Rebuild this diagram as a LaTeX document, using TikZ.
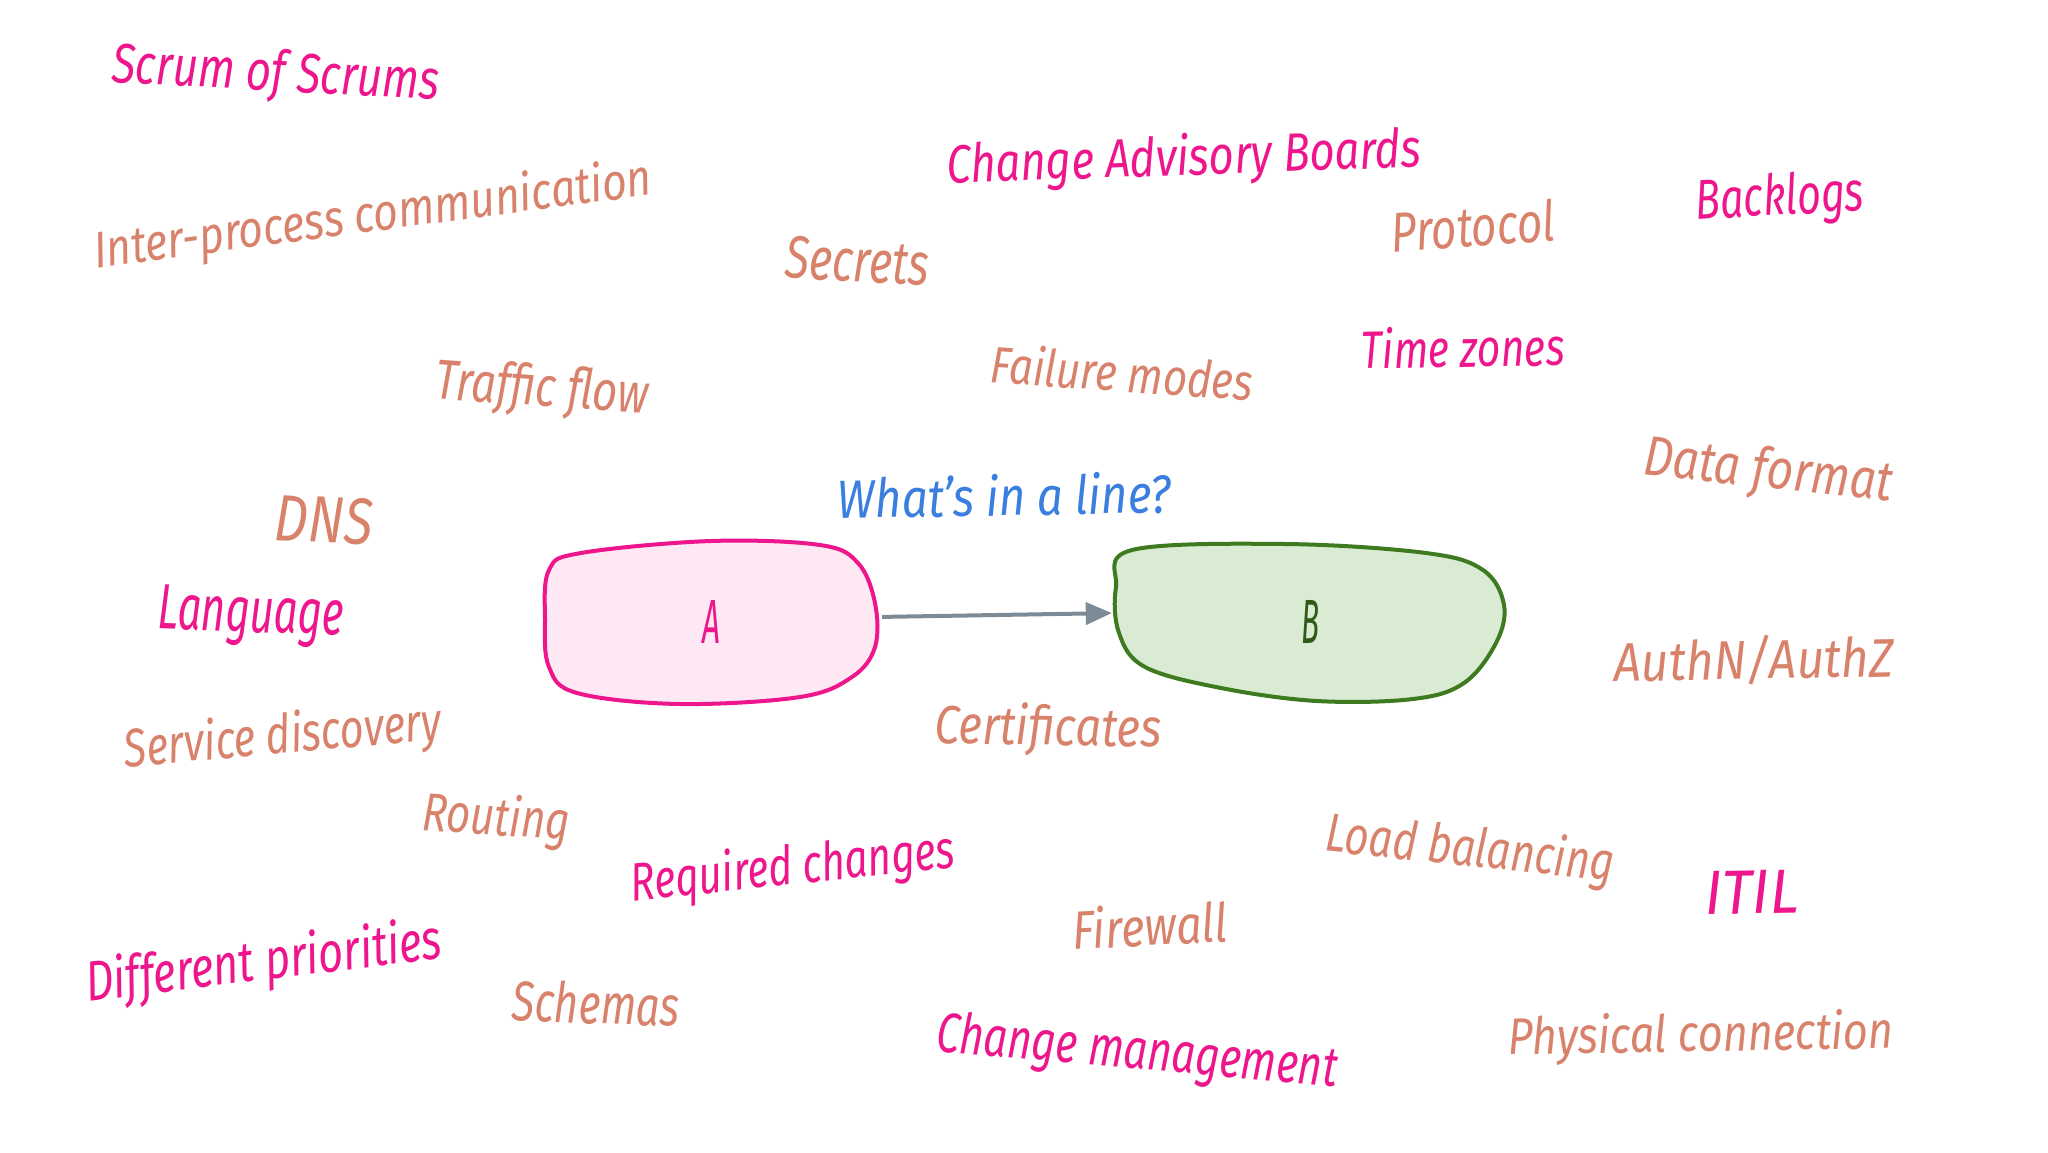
\documentclass[tikz,border=0pt]{standalone}
\usepackage{fontspec}
\usetikzlibrary{arrows.meta}
\newfontfamily\hwfont{Fira Sans}
\newcommand\hw[3]{\resizebox{#1pt}{#2pt}{\hwfont\itshape #3}}
\definecolor{salmon}{HTML}{D9826B}
\definecolor{hotpink}{HTML}{EE168C}
\definecolor{skyblue}{HTML}{3A7FE0}
\definecolor{pinkfill}{HTML}{FDE8F4}
\definecolor{greenline}{HTML}{3E7A1F}
\definecolor{greenfill}{HTML}{D9EBD3}
\definecolor{darkgreen}{HTML}{2F5A16}
\definecolor{arrowgrey}{HTML}{7D8B96}
\tikzset{
  lbl/.style={inner sep=0pt, anchor=center},
  sal/.style={lbl, text=salmon},
  pnk/.style={lbl, text=hotpink},
  blobA/.style={draw=hotpink, fill=pinkfill, line width=4pt, line join=round},
  blobB/.style={draw=greenline, fill=greenfill, line width=4pt, line join=round},
  boxnode/.style={inner sep=0pt, draw=none},
  link/.style={draw=arrowgrey, line width=4pt, -{Triangle[length=26pt,width=22pt]}}
}
\begin{document}
\begin{tikzpicture}[x=1pt,y=-1pt]
\useasboundingbox (0,0) rectangle (2048,1152);
\fill[white] (0,0) rectangle (2048,1152);

% blobs
\draw[blobA] plot[smooth cycle, tension=0.6] coordinates {
  (581,553) (711,541) (820,545) (858,563) (875,603) (875,647) (852,677)
  (800,697) (679,704) (577,693) (549,667) (545,620) (549,570)};
\draw[blobB] plot[smooth cycle, tension=0.6] coordinates {
  (1132,550) (1285,544) (1426,553) (1483,570) (1504,605) (1496,643) (1464,683)
  (1413,699) (1317,701) (1221,688) (1145,667) (1119,633) (1116,587)};

\node[boxnode, minimum width=330pt, minimum height=164pt, text=hotpink] (A) at (711,622) {\hw{18}{43}{A}};
\node[boxnode, minimum width=386pt, minimum height=156pt, text=darkgreen] (B) at (1310,622) {\hw{18}{43}{B}};
\draw[link, shorten <=6pt, shorten >=5pt] ([yshift=5pt]A.east) -- ([yshift=9pt]B.west);

% labels
\node[pnk, rotate=-3] (sos) at (276,76) {\hw{328}{42}{Scrum of Scrums}};
\node[sal, rotate=7.5] (ipc) at (373,217) {\hw{562}{40}{Inter-process communication}};
\node[pnk, rotate=2] (cab) at (1184,160) {\hw{474}{42}{Change Advisory Boards}};
\node[sal, rotate=-3] (sec) at (857,261) {\hw{144}{42}{Secrets}};
\node[sal, rotate=4] (prot) at (1473,226) {\hw{164}{42}{Protocol}};
\node[pnk, rotate=3] (back) at (1780,200) {\hw{168}{42}{Backlogs}};
\node[sal, rotate=-4] (traf) at (542,391) {\hw{214}{42}{Traffic flow}};
\node[sal, rotate=-4] (fail) at (1122,372) {\hw{263}{40}{Failure modes}};
\node[pnk, rotate=1] (tz) at (1463,347) {\hw{203}{41}{Time zones}};
\node[sal, rotate=-6] (data) at (1768,473) {\hw{250}{42}{Data format}};
\node[sal, rotate=-3] (dns) at (324,520) {\hw{98}{46}{DNS}};
\node[lbl, text=skyblue, rotate=1] (title) at (1004,495) {\hw{333}{42}{What’s in a line?}};
\node[pnk, rotate=-2] (lang) at (251,617) {\hw{186}{44}{Language}};
\node[sal, rotate=1] (auth) at (1754,660) {\hw{280}{44}{AuthN/AuthZ}};
\node[sal, rotate=5] (sd) at (283,738) {\hw{318}{42}{Service discovery}};
\node[sal, rotate=-1] (cert) at (1048,730) {\hw{227}{42}{Certificates}};
\node[sal, rotate=-4] (rout) at (496,820) {\hw{148}{42}{Routing}};
\node[sal, rotate=-6] (lb) at (1470,851) {\hw{290}{42}{Load balancing}};
\node[pnk, rotate=6] (req) at (793,869) {\hw{325}{42}{Required changes}};
\node[pnk, rotate=1] (itil) at (1752,892) {\hw{94}{43}{ITIL}};
\node[sal, rotate=3] (fw) at (1150,925) {\hw{155}{42}{Firewall}};
\node[pnk, rotate=7] (dp) at (264,964) {\hw{358}{44}{Different priorities}};
\node[sal, rotate=-2] (sch) at (596,1003) {\hw{168}{42}{Schemas}};
\node[pnk, rotate=-5] (cm) at (1137,1054) {\hw{402}{42}{Change management}};
\node[sal, rotate=1] (phys) at (1701,1037) {\hw{385}{40}{Physical connection}};
\end{tikzpicture}
\end{document}
